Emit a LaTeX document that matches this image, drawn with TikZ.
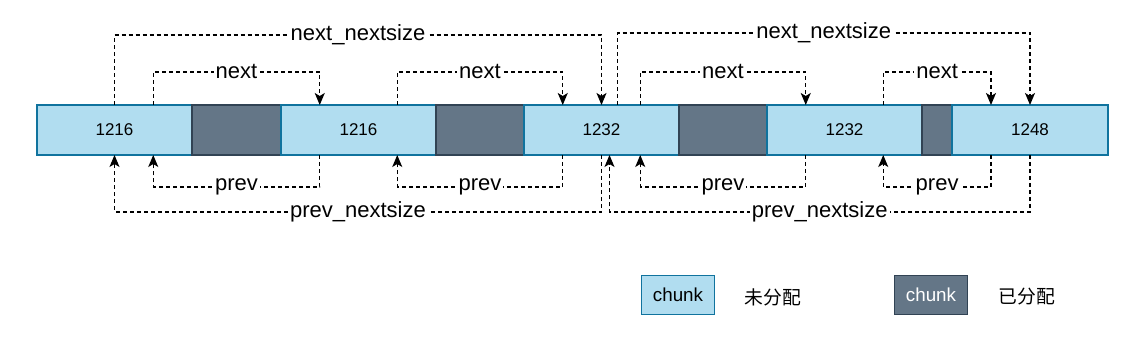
\documentclass[tikz,border=0pt]{standalone}
\usepackage{fontspec}
\setmainfont{Liberation Sans}
\newfontfamily\cjk{Noto Sans CJK SC}
\usepackage{xcolor}
\usetikzlibrary{calc, positioning, arrows.meta}

\definecolor{freefill}{HTML}{B1DDF0}
\definecolor{freeedge}{HTML}{10739E}
\definecolor{usedfill}{HTML}{647687}
\definecolor{usededge}{HTML}{314354}

\begin{document}
\begin{tikzpicture}[x=0.5pt, y=-0.5pt, >={Stealth[length=6pt, width=5pt, inset=1.5pt]},
    freechunk/.style={draw=freeedge, fill=freefill, line width=0.6pt, minimum height=25pt,
        inner sep=0pt, outer sep=0pt, font=\fontsize{8.5}{10}\selectfont},
    usedchunk/.style={draw=usededge, fill=usedfill, line width=0.6pt, minimum height=25pt,
        inner sep=0pt, outer sep=0pt},
    link/.style={->, dash pattern=on 2pt off 1.5pt, line width=0.65pt},
    linktext/.style={fill=white, inner sep=1pt, font=\fontsize{11}{13}\selectfont}]

    \useasboundingbox (0,0) rectangle (1137,341);

    % =================================================================
    % 1. CÁC CHUNK TRÊN THANH BỘ NHỚ
    % =================================================================
    \node[freechunk, minimum width=77.5pt, anchor=west] (c1) at (37,130) {1216};
    \node[usedchunk, minimum width=44.5pt, right=0pt of c1] (d1) {};
    \node[freechunk, minimum width=77.5pt, right=0pt of d1] (c2) {1216};
    \node[usedchunk, minimum width=44pt, right=0pt of c2] (d2) {};
    \node[freechunk, minimum width=77.5pt, right=0pt of d2] (c3) {1232};
    \node[usedchunk, minimum width=44pt, right=0pt of c3] (d3) {};
    \node[freechunk, minimum width=77.5pt, right=0pt of d3] (c4) {1232};
    \node[usedchunk, minimum width=15pt, right=0pt of c4] (d4) {};
    \node[freechunk, minimum width=78pt, right=0pt of d4] (c5) {1248};

    % =================================================================
    % 2. CON TRỎ next / next_nextsize (PHÍA TRÊN)
    % =================================================================
    \draw[link] ($(c1.north west)!.75!(c1.north east)$) -- ++(0,-33)
        -| node[linktext, pos=.25] (n1) {next} ($(c2.north west)!.25!(c2.north east)$);
    \draw[link] ($(c2.north west)!.75!(c2.north east)$) -- ++(0,-33)
        -| node[linktext, pos=.25] (n2) {next} ($(c3.north west)!.25!(c3.north east)$);
    \draw[link] ($(c3.north west)!.75!(c3.north east)$) -- ++(0,-33)
        -| node[linktext, pos=.25] (n3) {next} ($(c4.north west)!.25!(c4.north east)$);
    \draw[link] ($(c4.north west)!.75!(c4.north east)$) -- ++(0,-33)
        -| node[linktext, pos=.25] (n4) {next} ($(c5.north west)!.25!(c5.north east)$);

    \draw[link] (c1.north) -- ++(0,-70)
        -| node[linktext, pos=.25] (nn1) {next\_nextsize} (c3.north);
    \draw[link] ($(c3.north)+(16,0)$) -- ++(0,-72)
        -| node[linktext, pos=.25] (nn2) {next\_nextsize} (c5.north);

    % =================================================================
    % 3. CON TRỎ prev / prev_nextsize (PHÍA DƯỚI)
    % =================================================================
    \draw[link] ($(c2.south west)!.25!(c2.south east)$) -- ++(0,32)
        -| node[linktext, pos=.25] (p1) {prev} ($(c1.south west)!.75!(c1.south east)$);
    \draw[link] ($(c3.south west)!.25!(c3.south east)$) -- ++(0,32)
        -| node[linktext, pos=.25] (p2) {prev} ($(c2.south west)!.75!(c2.south east)$);
    \draw[link] ($(c4.south west)!.25!(c4.south east)$) -- ++(0,32)
        -| node[linktext, pos=.25] (p3) {prev} ($(c3.south west)!.75!(c3.south east)$);
    \draw[link] ($(c5.south west)!.25!(c5.south east)$) -- ++(0,32)
        -| node[linktext, pos=.25] (p4) {prev} ($(c4.south west)!.75!(c4.south east)$);

    \draw[link] (c3.south) -- ++(0,57)
        -| node[linktext, pos=.25] (pp1) {prev\_nextsize} (c1.south);
    \draw[link] (c5.south) -- ++(0,57)
        -| node[linktext, pos=.25] (pp2) {prev\_nextsize} ($(c3.south)+(8,0)$);

    % =================================================================
    % 4. CHÚ THÍCH
    % =================================================================
    \node[freechunk, minimum width=36.3pt, minimum height=19.7pt,
        font=\fontsize{9.4}{11}\selectfont] (k1) at (678,295) {chunk};
    \node[font=\cjk\fontsize{9.4}{11}\selectfont] (k1t) at (773,297) {未分配};
    \node[usedchunk, minimum width=36.7pt, minimum height=19.7pt, text=white,
        font=\fontsize{9.4}{11}\selectfont] (k2) at (931,295) {chunk};
    \node[font=\cjk\fontsize{9.4}{11}\selectfont] (k2t) at (1027,297) {已分配};

\end{tikzpicture}
\end{document}
